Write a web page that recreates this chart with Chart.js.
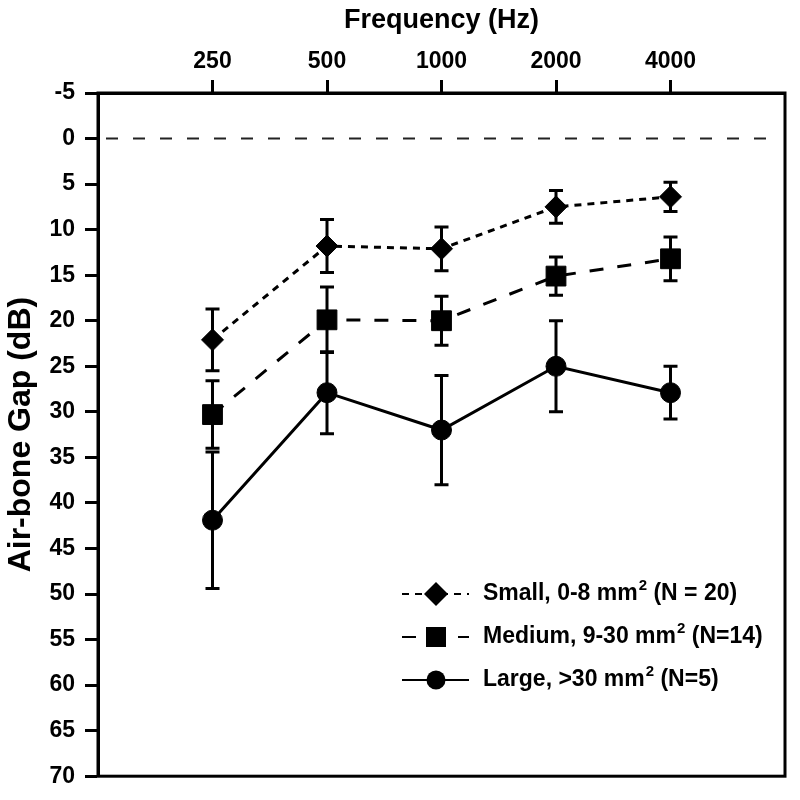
<!DOCTYPE html>
<html>
<head>
<meta charset="utf-8">
<script src="https://cdn.jsdelivr.net/npm/chart.js@4"></script>
<style>
  body { margin: 0; background: #fff; }
  canvas { display: block; }
</style>
</head>
<body>
<canvas id="gapChart" width="800" height="800"></canvas>
<script>
const frequencies = ["250", "500", "1000", "2000", "4000"];

const smallGap = [22.1, 11.8, 12.1, 7.5, 6.4];
const smallErr = [3.4, 2.9, 2.4, 1.8, 1.6];
const mediumGap = [30.3, 19.9, 20.0, 15.1, 13.2];
const mediumErr = [3.7, 3.6, 2.7, 2.1, 2.4];
const largeGap = [41.9, 27.9, 32.0, 25.0, 27.9];
const largeErr = [7.5, 4.5, 6.0, 5.0, 2.9];

const FONT = "'Liberation Sans', Arial, sans-serif";

const toPoints = arr => arr.map((v, i) => ({ x: i, y: v }));

// error bars, zero line, frame and legend
const extrasPlugin = {
    id: "extras",
    beforeDatasetsDraw(chart) {
        const ctx = chart.ctx;
        const area = chart.chartArea;
        const x = chart.scales.x;
        const y = chart.scales.y;

        // dashed reference line at 0 dB
        ctx.save();
        ctx.strokeStyle = "#222";
        ctx.lineWidth = 2;
        ctx.setLineDash([12, 15]);
        const y0 = y.getPixelForValue(0);
        ctx.beginPath();
        ctx.moveTo(area.left + 8, y0);
        ctx.lineTo(area.right - 8, y0);
        ctx.stroke();
        ctx.restore();

        // error bars
        ctx.save();
        ctx.strokeStyle = "#000";
        ctx.lineWidth = 3;
        chart.data.datasets.forEach(ds => {
            ds.data.forEach((p, i) => {
                const e = ds.errors[i];
                const px = x.getPixelForValue(p.x);
                const top = y.getPixelForValue(p.y - e);
                const bot = y.getPixelForValue(p.y + e);
                ctx.beginPath();
                ctx.moveTo(px, top);
                ctx.lineTo(px, bot);
                ctx.moveTo(px - 7, top);
                ctx.lineTo(px + 7, top);
                ctx.moveTo(px - 7, bot);
                ctx.lineTo(px + 7, bot);
                ctx.stroke();
            });
        });
        ctx.restore();
    },
    afterDraw(chart) {
        const ctx = chart.ctx;
        const area = chart.chartArea;

        // frame
        ctx.save();
        ctx.strokeStyle = "#000";
        ctx.lineWidth = 3;
        ctx.strokeRect(area.left, area.top, area.right - area.left, area.bottom - area.top);
        ctx.restore();

        // legend
        const rows = [
            { ds: 0, main: "Small, 0-8 mm", tail: " (N = 20)", y: 594 },
            { ds: 1, main: "Medium, 9-30 mm", tail: " (N=14)", y: 637 },
            { ds: 2, main: "Large, >30 mm", tail: " (N=5)", y: 680 }
        ];
        rows.forEach(r => {
            const ds = chart.data.datasets[r.ds];
            const cx = 436;
            ctx.save();
            ctx.strokeStyle = "#000";
            ctx.lineWidth = 2;
            ctx.setLineDash(ds.borderDash || []);
            ctx.beginPath();
            ctx.moveTo(402, r.y);
            ctx.lineTo(469, r.y);
            ctx.stroke();
            ctx.setLineDash([]);
            ctx.fillStyle = "#000";
            ctx.beginPath();
            if (ds.pointStyle === "rectRot") {
                ctx.moveTo(cx - 12, r.y);
                ctx.lineTo(cx, r.y - 12);
                ctx.lineTo(cx + 12, r.y);
                ctx.lineTo(cx, r.y + 12);
                ctx.closePath();
            } else if (ds.pointStyle === "rect") {
                ctx.rect(cx - 10, r.y - 10, 20, 20);
            } else {
                ctx.arc(cx, r.y, 9.5, 0, Math.PI * 2);
            }
            ctx.fill();

            ctx.textBaseline = "middle";
            ctx.textAlign = "left";
            ctx.font = "bold 23px " + FONT;
            let tx = 483;
            ctx.fillText(r.main, tx, r.y);
            tx += ctx.measureText(r.main).width + 1;
            ctx.font = "bold 15px " + FONT;
            ctx.fillText("2", tx, r.y - 8);
            tx += ctx.measureText("2").width;
            ctx.font = "bold 23px " + FONT;
            ctx.fillText(r.tail, tx, r.y);
            ctx.restore();
        });
    }
};

const ctx = document.getElementById("gapChart").getContext("2d");
const gapChart = new Chart(ctx, {
    type: "line",
    data: {
        datasets: [
            {
                label: "Small, 0-8 mm2 (N = 20)",
                data: toPoints(smallGap),
                errors: smallErr,
                borderColor: "#000",
                borderWidth: 3,
                borderDash: [7, 6],
                pointStyle: "rectRot",
                pointRadius: 11,
                pointBackgroundColor: "#000",
                pointBorderColor: "#000",
                pointBorderWidth: 1
            },
            {
                label: "Medium, 9-30 mm2 (N=14)",
                data: toPoints(mediumGap),
                errors: mediumErr,
                borderColor: "#000",
                borderWidth: 3,
                borderDash: [14, 14],
                pointStyle: "rect",
                pointRadius: 14,
                pointBackgroundColor: "#000",
                pointBorderColor: "#000",
                pointBorderWidth: 1
            },
            {
                label: "Large, >30 mm2 (N=5)",
                data: toPoints(largeGap),
                errors: largeErr,
                borderColor: "#000",
                borderWidth: 3,
                pointStyle: "circle",
                pointRadius: 10,
                pointBackgroundColor: "#000",
                pointBorderColor: "#000",
                pointBorderWidth: 1
            }
        ]
    },
    options: {
        responsive: false,
        animation: false,
        layout: { padding: { left: 0, top: 0, right: 12, bottom: 19 } },
        plugins: {
            legend: { display: false },
            tooltip: { enabled: false }
        },
        scales: {
            x: {
                type: "linear",
                position: "top",
                min: -1,
                max: 5,
                afterBuildTicks: axis => {
                    axis.ticks = axis.ticks.filter(t => t.value >= 0 && t.value <= 4);
                },
                afterFit: axis => { axis.height = 93; },
                ticks: {
                    stepSize: 1,
                    padding: 5,
                    color: "#000",
                    font: { family: FONT, size: 23, weight: "bold" },
                    callback: v => frequencies[v] || ""
                },
                grid: {
                    drawOnChartArea: false,
                    tickLength: 13,
                    tickWidth: 3,
                    tickColor: "#000"
                },
                border: { color: "#000", width: 3 },
                title: {
                    display: true,
                    text: "Frequency (Hz)",
                    color: "#000",
                    padding: { top: 4, bottom: 0 },
                    font: { family: FONT, size: 27, weight: "bold" }
                }
            },
            y: {
                reverse: true,
                min: -5,
                max: 70,
                afterFit: axis => { axis.width = 98; },
                ticks: {
                    stepSize: 5,
                    padding: 10,
                    color: "#000",
                    font: { family: FONT, size: 23, weight: "bold" }
                },
                grid: {
                    drawOnChartArea: false,
                    tickLength: 13,
                    tickWidth: 3,
                    tickColor: "#000"
                },
                border: { color: "#000", width: 3 },
                title: {
                    display: true,
                    text: "Air-bone Gap (dB)",
                    color: "#000",
                    padding: { top: 2, bottom: 0 },
                    font: { family: FONT, size: 32, weight: "bold" }
                }
            }
        }
    },
    plugins: [extrasPlugin]
});
</script>
</body>
</html>
